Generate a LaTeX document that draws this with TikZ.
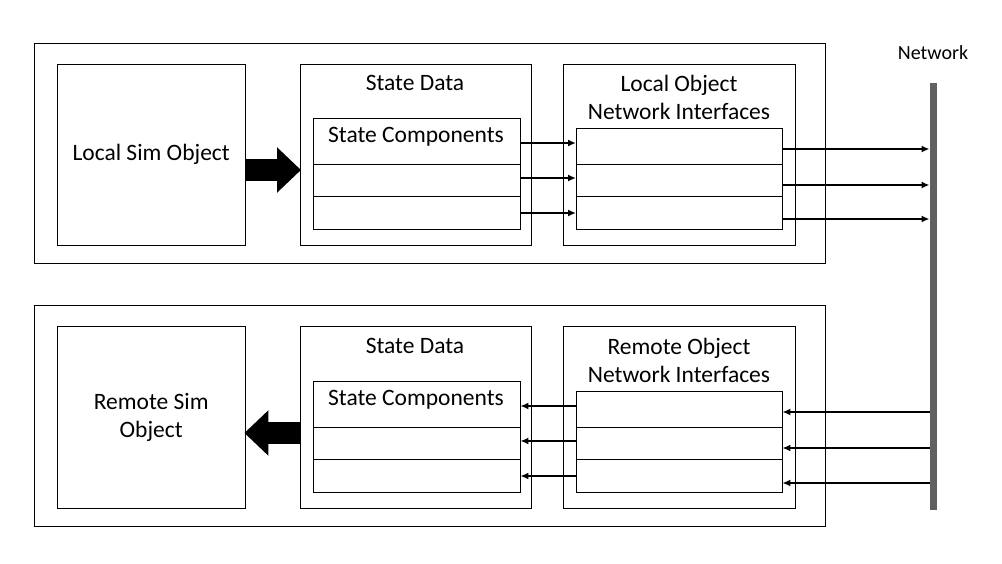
\documentclass[tikz,border=0pt]{standalone}
\usepackage{fontspec}
\setmainfont{Carlito}
\usetikzlibrary{arrows.meta}
\tikzstyle{frame}=[rectangle, draw, thin, anchor=north west, inner sep=0pt]
\tikzstyle{lbl}=[font=\fontsize{23.5}{28}\selectfont, align=center]
\tikzstyle{link}=[-{Latex[length=8pt,width=7pt]}, line width=2pt]
\tikzstyle{bigarrow}=[line width=22pt, -{Triangle[length=24pt,width=44pt]}, shorten >=-1pt]

\begin{document}
\begin{tikzpicture}[x=1pt, y=-1pt]
    \useasboundingbox (0,0) rectangle (1002,564);
    % top half
    \node[frame, minimum width=791pt, minimum height=220pt] (top) at (34,43) {};
    \node[frame, minimum width=188pt, minimum height=181pt] (lso) at (57,64) {};
    \node[lbl] at (lso.center) {Local Sim Object};
    \node[frame, minimum width=231pt, minimum height=181pt] (sd1) at (300,64) {};
    \node[lbl] at (415,83) {State Data};
    \node[frame, minimum width=207pt, minimum height=111pt] (sc1) at (313,118) {};
    \node[lbl] at (416,137) {State Components};
    \node[frame, minimum width=232pt, minimum height=181pt] (ni1) at (563,64) {};
    \node[lbl] at (679,97) {Local Object\\Network Interfaces};
    \node[frame, minimum width=206pt, minimum height=101pt] (nb1) at (576,128) {};
    % bottom half
    \node[frame, minimum width=791pt, minimum height=221pt] (bot) at (34,305) {};
    \node[frame, minimum width=188pt, minimum height=182pt] (rso) at (57,326) {};
    \node[lbl] at (rso.center) {Remote Sim\\Object};
    \node[frame, minimum width=231pt, minimum height=182pt] (sd2) at (300,326) {};
    \node[lbl] at (415,346) {State Data};
    \node[frame, minimum width=207pt, minimum height=111pt] (sc2) at (313,381) {};
    \node[lbl] at (416,400) {State Components};
    \node[frame, minimum width=232pt, minimum height=182pt] (ni2) at (563,326) {};
    \node[lbl] at (679,360) {Remote Object\\Network Interfaces};
    \node[frame, minimum width=206pt, minimum height=101pt] (nb2) at (576,391) {};
    % row lines
    \foreach \n/\a/\b in {sc1/164/196, nb1/164/196, sc2/427/459, nb2/427/459} {
        \draw (\n.west |- 0,\a)--(\n.east |- 0,\a) (\n.west |- 0,\b)--(\n.east |- 0,\b);
    }
    % network
    \node[font=\fontsize{20}{24}\selectfont] (net) at (933,53) {Network};
    \coordinate (bar top) at (933,83);
    \coordinate (bar bot) at (933,510);
    \draw[line width=7pt, gray!75!black] (bar top)--(bar bot);
    % links
    \foreach \y in {143,178,213} \draw[link] (sc1.east |- 0,\y)--(nb1.west |- 0,\y);
    \foreach \y in {149,185,219} \draw[link] (nb1.east |- 0,\y)--(929.5,\y);
    \foreach \y in {406,441,476} \draw[link] (nb2.west |- 0,\y)--(sc2.east |- 0,\y);
    \foreach \y in {412,448,483} \draw[link] (929.5,\y)--(nb2.east |- 0,\y);
    \draw[bigarrow] (lso.east |- 0,170)--(sd1.west |- 0,170);
    \draw[bigarrow] (sd2.west |- 0,433)--(rso.east |- 0,433);
\end{tikzpicture}
\end{document}
